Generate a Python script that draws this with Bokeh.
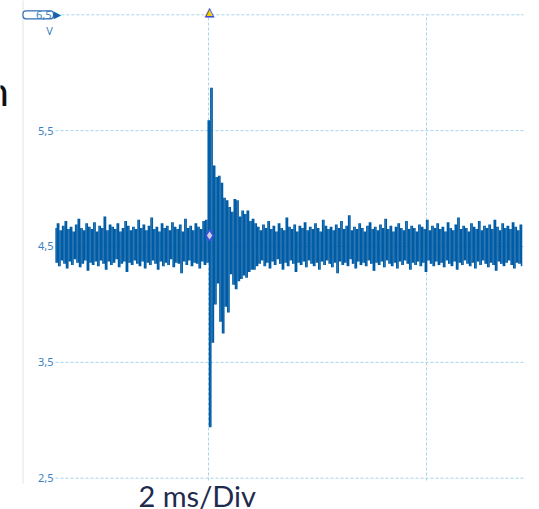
import numpy as np
from bokeh.plotting import figure
from bokeh.models import Range1d, Label, ColumnDataSource
from bokeh.embed import file_html
from bokeh.resources import INLINE
from bokeh.core.properties import value

# ---------------- data ----------------
t_start_ms = -1.404      # first sample time (ms), trigger at 0 ms
sample_ms = 0.011927     # sample spacing (ms)

# alternating peak-detect samples: high then low
highs_pre = [4.66, 4.70, 4.64, 4.68, 4.72, 4.65, 4.67, 4.63, 4.69, 4.74,
             4.66, 4.64, 4.70, 4.67, 4.65, 4.71, 4.63, 4.68, 4.66, 4.76,
             4.64, 4.69, 4.67, 4.65, 4.70, 4.63, 4.66, 4.72, 4.68, 4.64,
             4.67, 4.65, 4.73, 4.66, 4.69, 4.64, 4.68, 4.75, 4.65, 4.67,
             4.63, 4.70, 4.66, 4.68, 4.64, 4.71, 4.67, 4.65, 4.69, 4.63,
             4.74, 4.66, 4.68, 4.64, 4.70, 4.67, 4.65, 4.72, 4.73]
lows_pre = [4.36, 4.33, 4.38, 4.35, 4.31, 4.37, 4.34, 4.39, 4.36, 4.32,
            4.35, 4.38, 4.29, 4.36, 4.34, 4.37, 4.33, 4.38, 4.35, 4.30,
            4.37, 4.34, 4.36, 4.39, 4.32, 4.35, 4.37, 4.28, 4.36, 4.34,
            4.38, 4.35, 4.33, 4.37, 4.31, 4.36, 4.34, 4.38, 4.35, 4.30,
            4.37, 4.33, 4.36, 4.34, 4.39, 4.32, 4.36, 4.35, 4.27, 4.37,
            4.34, 4.38, 4.33, 4.36, 4.35, 4.31, 4.37, 4.34, 4.36]
highs_burst = [5.59, 5.87, 5.20, 5.10, 5.11, 5.05, 4.92, 4.90, 4.84, 4.80,
               4.91, 4.90, 4.76, 4.81, 4.78, 4.81, 4.72, 4.74, 4.70]
lows_burst = [2.94, 3.67, 4.00, 4.18, 3.85, 3.75, 3.98, 3.93, 4.26, 4.17,
              4.13, 4.20, 4.22, 4.25, 4.23, 4.28, 4.30, 4.30, 4.33]
highs_post = [4.67, 4.64, 4.69, 4.66, 4.72, 4.65, 4.68, 4.63, 4.70, 4.66,
              4.64, 4.75, 4.67, 4.65, 4.69, 4.63, 4.68, 4.66, 4.71, 4.64,
              4.67, 4.65, 4.70, 4.66, 4.63, 4.73, 4.68, 4.65, 4.67, 4.64,
              4.69, 4.66, 4.72, 4.65, 4.68, 4.77, 4.64, 4.67, 4.65, 4.70,
              4.66, 4.63, 4.68, 4.71, 4.65, 4.67, 4.64, 4.69, 4.66, 4.74,
              4.65, 4.68, 4.63, 4.67, 4.70, 4.66, 4.64, 4.72, 4.65, 4.68,
              4.66, 4.63, 4.69, 4.67, 4.65, 4.73, 4.64, 4.68, 4.66, 4.70,
              4.65, 4.67, 4.63, 4.71, 4.66, 4.64, 4.69, 4.75, 4.65, 4.68,
              4.66, 4.63, 4.70, 4.67, 4.65, 4.72, 4.64, 4.68, 4.66, 4.69,
              4.65, 4.73, 4.67, 4.64, 4.70, 4.66, 4.68, 4.65, 4.71, 4.67,
              4.64, 4.69]
lows_post = [4.35, 4.38, 4.33, 4.36, 4.31, 4.37, 4.34, 4.39, 4.35, 4.30,
             4.36, 4.33, 4.38, 4.35, 4.28, 4.36, 4.34, 4.37, 4.32, 4.38,
             4.35, 4.33, 4.36, 4.30, 4.37, 4.34, 4.38, 4.35, 4.32, 4.36,
             4.27, 4.37, 4.34, 4.36, 4.33, 4.39, 4.35, 4.31, 4.37, 4.34,
             4.36, 4.33, 4.38, 4.35, 4.29, 4.36, 4.34, 4.37, 4.32, 4.38,
             4.35, 4.33, 4.36, 4.31, 4.37, 4.34, 4.38, 4.35, 4.30, 4.36,
             4.34, 4.37, 4.33, 4.36, 4.28, 4.38, 4.35, 4.33, 4.37, 4.34,
             4.36, 4.32, 4.38, 4.35, 4.33, 4.37, 4.30, 4.36, 4.34, 4.38,
             4.35, 4.33, 4.36, 4.31, 4.37, 4.34, 4.38, 4.35, 4.32, 4.36,
             4.34, 4.29, 4.37, 4.35, 4.33, 4.36, 4.38, 4.34, 4.31, 4.36,
             4.35, 4.33]

y_ticks = [2.5, 3.5, 4.5, 5.5, 6.5]
y_tick_labels = ["2,5", "3,5", "4,5", "5,5", "6,5"]
x_grid_ms = [0, 2]
screen_t = (-1.4037, 2.8899)     # scope display window, ms
screen_v = (2.5, 6.5)            # scope display window, V
trigger_point = (0.01, 4.595)
timebase_text = "2 ms/Div"
unit_text = "V"

# ---------------- build ----------------
highs = highs_pre + highs_burst + highs_post
lows = lows_pre + lows_burst + lows_post
volts = []
for h, l in zip(highs, lows):
    volts += [h, l]
volts = np.array(volts)
times = t_start_ms + sample_ms * np.arange(len(volts))
# peak-detect display: a vertical stroke between each pair of successive samples
src = ColumnDataSource(dict(t=times[1:] - sample_ms / 2, v0=volts[:-1], v1=volts[1:]))

p = figure(width=539, height=509, output_backend="svg", toolbar_location=None,
           x_range=Range1d(-1.9083, 3.0367), y_range=Range1d(2.2298, 6.6234),
           min_border_left=0, min_border_right=0, min_border_top=0, min_border_bottom=0)
p.outline_line_color = None
p.background_fill_color = "white"
p.border_fill_color = "white"
p.axis.visible = False
p.grid.visible = False

grid_col = "#a6d4ea"
T0, T1 = screen_t
V0, V1 = screen_v
# scope graticule
p.segment(x0=[T0] * 4, x1=[T1] * 4, y0=y_ticks[:4], y1=y_ticks[:4],
          line_color=grid_col, line_dash="3 2", line_width=1)
p.segment(x0=[-1.35], x1=[T1], y0=[V1], y1=[V1],
          line_color=grid_col, line_dash="3 2", line_width=1)
p.segment(x0=x_grid_ms, x1=x_grid_ms, y0=[V0 - 0.02] * 2, y1=[V1] * 2,
          line_color=grid_col, line_dash="3 2", line_width=1)
# faint slide separator at the left
p.segment(x0=[-1.7018], x1=[-1.7018], y0=[2.454], y1=[6.63],
          line_color="#e4e4e4", line_width=1)

# y tick labels
p.text(x=[T0] * 4, y=y_ticks[:4], text=y_tick_labels[:4], x_offset=-2,
       text_align="right", text_baseline="middle",
       text_font=value("Noto Sans"), text_font_size=value("11px"), text_color="#3b7fc1")

# signal (peak-detect trace)
p.segment(x0="t", x1="t", y0="v0", y1="v1", source=src,
          line_color="#005ca5", line_width=1.5)
p.scatter([trigger_point[0]], [trigger_point[1]], marker="diamond", size=11,
          fill_color="#cfcfd8", line_color="#3a4ee0", line_width=1.5)

# channel scale box "6,5" with arrow
p.add_layout(Label(x=T0, y=V1, text=y_tick_labels[-1], x_offset=-2,
                   text_align="right", text_baseline="middle",
                   text_font="Noto Sans", text_font_size="11px", text_color="#3b7fc1",
                   border_line_color="#2f6fb5", border_line_width=1.2, border_radius=3,
                   background_fill_color="white",
                   padding=dict(left=13, right=2, top=0, bottom=0)))
p.add_layout(Label(x=T0, y=V1, text="\u25B6", x_offset=-2,
                   text_align="left", text_baseline="middle",
                   text_font="DejaVu Sans", text_font_size="10px", text_color="#1b5fa8"))
p.add_layout(Label(x=T0, y=V1, text=unit_text, x_offset=-6, y_offset=-16,
                   text_align="center", text_baseline="middle",
                   text_font="Noto Sans", text_font_size="11px", text_color="#3b7fc1"))

# trigger marker at top
p.add_layout(Label(x=0, y=V1, text="\u25B2", x_offset=1, y_offset=3,
                   text_align="center", text_baseline="middle",
                   text_font="DejaVu Sans", text_font_size="13px", text_color="#3c4bd0"))
p.add_layout(Label(x=0, y=V1, text="\u25B2", x_offset=1, y_offset=2,
                   text_align="center", text_baseline="middle",
                   text_font="DejaVu Sans", text_font_size="8px", text_color="#f2d000"))

# slide texts
p.add_layout(Label(x=-0.642, y=2.3507, text=timebase_text,
                   text_align="left", text_baseline="middle",
                   text_font="Lato", text_font_size="29px", text_color="#1f2b4d"))
p.add_layout(Label(x=-2.023, y=5.734, x_offset=-2, y_offset=13, text="n",
                   text_align="left", text_baseline="alphabetic",
                   text_font="Lato", text_font_size="41px", text_color="#111111"))

open("out.html", "w").write(file_html(p, INLINE))
